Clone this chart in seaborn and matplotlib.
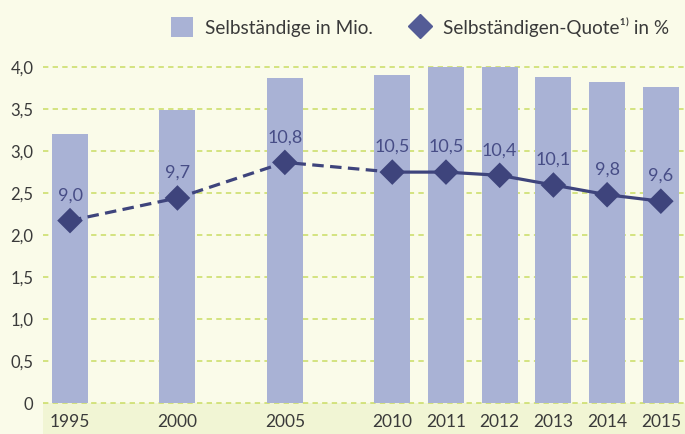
import numpy as np
import pandas as pd
import matplotlib
matplotlib.use("Agg")
import matplotlib.pyplot as plt
from matplotlib.patches import Patch, Rectangle
from matplotlib.lines import Line2D
import seaborn as sns

# ---- data ----
years = [1995, 2000, 2005, 2010, 2011, 2012, 2013, 2014, 2015]
selbstaendige_mio = [3.20, 3.49, 3.87, 3.90, 4.00, 4.00, 3.88, 3.82, 3.76]
quote_pct = [9.0, 9.7, 10.8, 10.5, 10.5, 10.4, 10.1, 9.8, 9.6]
y_ticks = [0, 0.5, 1.0, 1.5, 2.0, 2.5, 3.0, 3.5, 4.0]
legend_labels = ["Selbständige in Mio.", "Selbständigen-Quote¹⁾ in %"]

# ---- style ----
BG = "#fafbe9"
BAND = "#f1f5d4"
BAR = "#a9b2d5"
NAVY = "#3e447c"
LEG_NAVY = "#545c96"
GRID = "#c9dc63"
TXT = "#3a3a3a"

sns.set_style("white")
plt.rcParams["font.family"] = ["Lato", "DejaVu Sans"]

W, H = 685, 434
fig = plt.figure(figsize=(W / 100, H / 100), dpi=100, facecolor=BG)

left_px, right_px, bottom_px, top_px = 43, 685, 403, 67
ax = fig.add_axes([left_px / W, 1 - bottom_px / H,
                   (right_px - left_px) / W, (bottom_px - top_px) / H])
ax.set_facecolor(BG)

# bottom band behind year labels (drawn below the axes and their labels)
fig.patches.append(Rectangle((left_px / W, 0), 1 - left_px / W, 1 - bottom_px / H,
                             transform=fig.transFigure, facecolor=BAND,
                             edgecolor="none", zorder=-5))

# x positions: 5-year steps compressed to 2 units, yearly steps 1 unit
yrs = np.array(years)
pos = np.where(yrs <= 2010, (yrs - 1995) / 2.5, yrs - 2004).astype(float)

df = pd.DataFrame({"pos": pos, "mio": selbstaendige_mio, "quote": quote_pct})

sns.barplot(data=df, x="pos", y="mio", native_scale=True, ax=ax,
            color=BAR, saturation=1, width=0.67, edgecolor="none", zorder=2)

# secondary (hidden) axis for the quota
ax2 = ax.twinx()
ax2.set_ylim(3.36, 13.75)
ax2.set_facecolor("none")

dashed = df[df["pos"] <= 6]
solid = df[df["pos"] >= 6]
sns.lineplot(data=dashed, x="pos", y="quote", ax=ax2, color=NAVY, linewidth=2.3,
             linestyle=(0, (3.6, 2.0)), zorder=3)
sns.lineplot(data=solid, x="pos", y="quote", ax=ax2, color=NAVY, linewidth=2.3,
             zorder=3)
sns.scatterplot(data=df, x="pos", y="quote", ax=ax2, marker="D", s=170,
                color=NAVY, edgecolor="none", linewidth=0, zorder=4)
ax2.set_ylim(3.36, 13.75)
ax2.set_yticks([])
ax2.set_xlabel("")
ax2.set_ylabel("")
for s in ax2.spines.values():
    s.set_visible(False)

for x, q in zip(pos, quote_pct):
    ax2.annotate(f"{q:.1f}".replace(".", ","), (x, q), xytext=(0, 14.5),
                 textcoords="offset points", ha="center", va="baseline",
                 fontsize=13, color="#474d86", zorder=5)

# primary axis formatting (after all plotting, as x is shared)
ax.set_xlim(-0.503, 11.45)
ax.set_ylim(0, 4.0)
ax.set_yticks(y_ticks)
ax.set_yticklabels([("0" if v == 0 else f"{v:.1f}".replace(".", ",")) for v in y_ticks],
                   fontsize=12, color=TXT)
ax.set_xticks(pos)
ax.set_xticklabels([str(y) for y in years], fontsize=12.5, color=TXT)
ax.tick_params(axis="y", length=0, pad=7)
ax.tick_params(axis="x", length=0, pad=8, labelbottom=True)
ax.set_xlabel("")
ax.set_ylabel("")
for s in ax.spines.values():
    s.set_visible(False)
ax.set_axisbelow(True)
ax.grid(axis="y", color=GRID, linewidth=1.1, linestyle=(0, (3.5, 2.8)))
ax.grid(axis="x", visible=False)
for gl in ax.get_ygridlines():
    gl.set_clip_on(False)

# legend
handles = [Patch(facecolor=BAR, edgecolor="none"),
           Line2D([], [], marker="D", color=LEG_NAVY, linestyle="none", markersize=12.5)]
leg = fig.legend(handles, legend_labels, loc="center", ncol=2, frameon=False,
                 bbox_to_anchor=(0.613, 0.938), fontsize=13.7, handlelength=1.2,
                 handleheight=1.2, handletextpad=0.6, columnspacing=1.9,
                 labelcolor=TXT)

fig.savefig("out.png", dpi=100, facecolor=BG)
